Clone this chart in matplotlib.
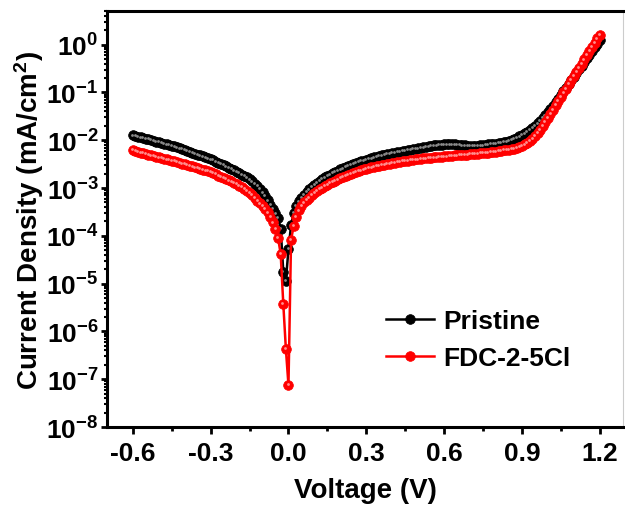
import numpy as np
import matplotlib
matplotlib.use("Agg")
import matplotlib.pyplot as plt
from matplotlib import transforms
from matplotlib.ticker import LogLocator, MultipleLocator, NullFormatter

plt.rcParams['font.family'] = ['Liberation Sans', 'DejaVu Sans']
plt.rcParams['font.weight'] = 'bold'
plt.rcParams['mathtext.fontset'] = 'custom'
plt.rcParams['mathtext.rm'] = 'Liberation Sans:bold'
plt.rcParams['mathtext.bf'] = 'Liberation Sans:bold'
plt.rcParams['mathtext.it'] = 'Liberation Sans:bold'

# Voltage sweep (V), 10 mV steps
voltage = [
    -0.60, -0.59, -0.58, -0.57, -0.56, -0.55, -0.54, -0.53, -0.52, -0.51,
    -0.50, -0.49, -0.48, -0.47, -0.46, -0.45, -0.44, -0.43, -0.42, -0.41,
    -0.40, -0.39, -0.38, -0.37, -0.36, -0.35, -0.34, -0.33, -0.32, -0.31,
    -0.30, -0.29, -0.28, -0.27, -0.26, -0.25, -0.24, -0.23, -0.22, -0.21,
    -0.20, -0.19, -0.18, -0.17, -0.16, -0.15, -0.14, -0.13, -0.12, -0.11,
    -0.10, -0.09, -0.08, -0.07, -0.06, -0.05, -0.04, -0.03, -0.02, -0.01,
    0.00,
    0.01, 0.02, 0.03, 0.04, 0.05, 0.06, 0.07, 0.08, 0.09, 0.10,
    0.11, 0.12, 0.13, 0.14, 0.15, 0.16, 0.17, 0.18, 0.19, 0.20,
    0.21, 0.22, 0.23, 0.24, 0.25, 0.26, 0.27, 0.28, 0.29, 0.30,
    0.31, 0.32, 0.33, 0.34, 0.35, 0.36, 0.37, 0.38, 0.39, 0.40,
    0.41, 0.42, 0.43, 0.44, 0.45, 0.46, 0.47, 0.48, 0.49, 0.50,
    0.51, 0.52, 0.53, 0.54, 0.55, 0.56, 0.57, 0.58, 0.59, 0.60,
    0.61, 0.62, 0.63, 0.64, 0.65, 0.66, 0.67, 0.68, 0.69, 0.70,
    0.71, 0.72, 0.73, 0.74, 0.75, 0.76, 0.77, 0.78, 0.79, 0.80,
    0.81, 0.82, 0.83, 0.84, 0.85, 0.86, 0.87, 0.88, 0.89, 0.90,
    0.91, 0.92, 0.93, 0.94, 0.95, 0.96, 0.97, 0.98, 0.99, 1.00,
    1.01, 1.02, 1.03, 1.04, 1.05, 1.06, 1.07, 1.08, 1.09, 1.10,
    1.11, 1.12, 1.13, 1.14, 1.15, 1.16, 1.17, 1.18, 1.19, 1.20,
]

# log10 of current density (mA/cm2)
pristine_log10 = [
    -1.90, -1.91, -1.93, -1.94, -1.96, -1.97, -1.98, -2.00, -2.01, -2.03,
    -2.04, -2.06, -2.07, -2.09, -2.10, -2.12, -2.13, -2.15, -2.17, -2.18,
    -2.20, -2.22, -2.24, -2.26, -2.28, -2.30, -2.32, -2.34, -2.36, -2.38,
    -2.40, -2.42, -2.45, -2.47, -2.50, -2.52, -2.55, -2.58, -2.60, -2.63,
    -2.66, -2.69, -2.72, -2.75, -2.78, -2.82, -2.86, -2.91, -2.96, -3.02,
    -3.09, -3.17, -3.26, -3.35, -3.44, -3.53, -3.62, -3.85, -4.75, -4.94,
    -4.28,
    -3.78, -3.52, -3.38, -3.28, -3.20, -3.14, -3.08, -3.03, -2.98, -2.93,
    -2.89, -2.85, -2.81, -2.78, -2.75, -2.72, -2.69, -2.67, -2.64, -2.61,
    -2.59, -2.56, -2.54, -2.52, -2.50, -2.48, -2.46, -2.44, -2.43, -2.41,
    -2.39, -2.38, -2.36, -2.35, -2.33, -2.32, -2.31, -2.29, -2.28, -2.27,
    -2.26, -2.25, -2.24, -2.23, -2.22, -2.21, -2.20, -2.19, -2.18, -2.17,
    -2.16, -2.15, -2.14, -2.13, -2.12, -2.11, -2.11, -2.10, -2.10, -2.09,
    -2.09, -2.09, -2.09, -2.09, -2.10, -2.10, -2.11, -2.11, -2.12, -2.12,
    -2.12, -2.12, -2.12, -2.11, -2.11, -2.10, -2.09, -2.08, -2.08, -2.07,
    -2.06, -2.05, -2.04, -2.03, -2.01, -1.99, -1.97, -1.95, -1.92, -1.89,
    -1.86, -1.82, -1.78, -1.74, -1.70, -1.65, -1.60, -1.54, -1.48, -1.42,
    -1.35, -1.28, -1.21, -1.13, -1.06, -0.98, -0.91, -0.83, -0.75, -0.68,
    -0.60, -0.52, -0.45, -0.37, -0.29, -0.22, -0.14, -0.06, 0.01, 0.09,
]

fdc_log10 = [
    -2.21, -2.23, -2.24, -2.26, -2.27, -2.29, -2.30, -2.32, -2.33, -2.35,
    -2.36, -2.37, -2.39, -2.40, -2.41, -2.43, -2.44, -2.46, -2.47, -2.49,
    -2.50, -2.52, -2.53, -2.55, -2.57, -2.58, -2.60, -2.62, -2.63, -2.65,
    -2.67, -2.69, -2.71, -2.74, -2.76, -2.79, -2.81, -2.84, -2.86, -2.89,
    -2.92, -2.95, -2.98, -3.02, -3.06, -3.10, -3.15, -3.21, -3.27, -3.32,
    -3.37, -3.44, -3.51, -3.61, -3.72, -3.86, -4.05, -4.38, -5.42, -6.37,
    -7.12,
    -4.08, -3.80, -3.61, -3.47, -3.37, -3.30, -3.25, -3.20, -3.15, -3.10,
    -3.06, -3.02, -2.99, -2.96, -2.93, -2.90, -2.87, -2.85, -2.82, -2.79,
    -2.77, -2.74, -2.72, -2.70, -2.68, -2.66, -2.65, -2.63, -2.61, -2.60,
    -2.58, -2.57, -2.56, -2.54, -2.53, -2.52, -2.51, -2.50, -2.49, -2.48,
    -2.47, -2.46, -2.45, -2.44, -2.43, -2.43, -2.42, -2.41, -2.40, -2.40,
    -2.39, -2.38, -2.38, -2.37, -2.37, -2.36, -2.36, -2.35, -2.35, -2.34,
    -2.34, -2.33, -2.33, -2.32, -2.32, -2.31, -2.31, -2.30, -2.30, -2.29,
    -2.29, -2.28, -2.28, -2.27, -2.27, -2.26, -2.26, -2.25, -2.24, -2.24,
    -2.23, -2.22, -2.21, -2.21, -2.20, -2.19, -2.18, -2.16, -2.14, -2.12,
    -2.09, -2.06, -2.02, -1.97, -1.91, -1.85, -1.78, -1.70, -1.62, -1.53,
    -1.45, -1.36, -1.27, -1.18, -1.09, -1.00, -0.92, -0.83, -0.74, -0.66,
    -0.57, -0.48, -0.40, -0.31, -0.22, -0.13, -0.05, 0.04, 0.13, 0.21,
]

labels = ["Pristine", "FDC-2-5Cl"]
colors = ["black", "red"]
highlights = ["#8a8a8a", "#ff9090"]
x_ticks = [-0.6, -0.3, 0.0, 0.3, 0.6, 0.9, 1.2]
y_exponents = [-8, -7, -6, -5, -4, -3, -2, -1, 0]

v = np.array(voltage)
series = [10.0 ** np.array(pristine_log10), 10.0 ** np.array(fdc_log10)]

fig = plt.figure(figsize=(6.25, 5.06), dpi=100)
ax = fig.add_axes([0.171, 0.154, 0.826, 0.822])

# small offset copy of the data transform for the sphere-like highlight
shine = transforms.offset_copy(ax.transData, fig=fig, x=-0.8, y=0.8, units='dots')

for j, lab, c, hl in zip(series, labels, colors, highlights):
    ax.plot(v, j, '-o', color=c, lw=1.8, ms=7.0, mfc=c, mec=c, mew=0.5, label=lab)
    ax.plot(v, j, 'o', color=hl, ms=2.0, mew=0, transform=shine)

ax.set_yscale('log')
ax.set_xlim(-0.70, 1.29)
ax.set_ylim(1e-8, 5)

ax.set_xticks(x_ticks)
ax.set_xticklabels(["%.1f" % t for t in x_ticks])
ax.xaxis.set_minor_locator(MultipleLocator(0.15))

ax.set_yticks([10.0 ** k for k in y_exponents])
ax.set_yticklabels([r'$\mathbf{10^{%d}}$' % k for k in y_exponents])
ax.yaxis.set_minor_locator(LogLocator(base=10, subs=np.arange(2, 10), numticks=30))
ax.yaxis.set_minor_formatter(NullFormatter())

ax.tick_params(axis='both', which='major', direction='out', width=2.0, labelsize=19)
ax.tick_params(axis='x', which='major', length=5, pad=5)
ax.tick_params(axis='x', which='minor', direction='out', length=3, width=2.0)
ax.tick_params(axis='y', which='major', length=4, pad=2)
ax.tick_params(axis='y', which='minor', direction='out', length=2.5, width=1.5)
ax.tick_params(top=False, right=False, which='both')

for s in ['left', 'bottom', 'top']:
    ax.spines[s].set_linewidth(2.2)
ax.spines['right'].set_linewidth(0.8)
ax.spines['right'].set_color('#cccccc')

ax.set_xlabel('Voltage (V)', fontsize=20, fontweight='bold', labelpad=9)
ax.set_ylabel(r'Current Density (mA/cm$^\mathbf{2}$)', fontsize=20, fontweight='bold', labelpad=0)

leg = ax.legend(loc='center left', bbox_to_anchor=(0.54, 0.21), frameon=False,
                fontsize=19, handlelength=1.85, handletextpad=0.35, labelspacing=0.5,
                borderpad=0, borderaxespad=0, numpoints=1)
for t in leg.get_texts():
    t.set_fontweight('bold')

fig.savefig('out.png', dpi=100)
